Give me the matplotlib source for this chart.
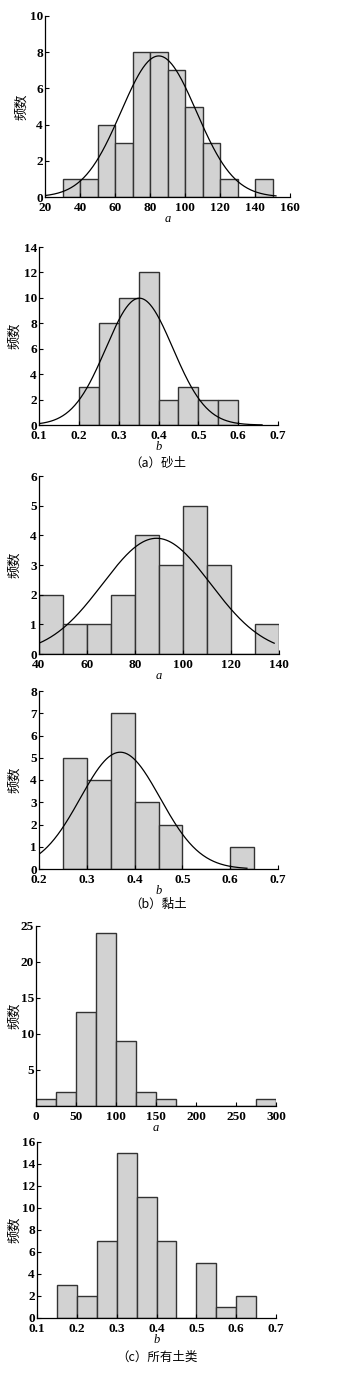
import numpy as np
import matplotlib
matplotlib.use("Agg")
import matplotlib.pyplot as plt

plt.rcParams['font.family'] = ['Liberation Serif', 'Noto Sans CJK SC']

# (a) sand: a
a1_edges = [30, 40, 50, 60, 70, 80, 90, 100, 110, 120, 130, 140, 150]
a1_counts = [1, 1, 4, 3, 8, 8, 7, 5, 3, 1, 0, 1]
a1_fit = (85, 21.5, 42)          # mean, std, n
# (a) sand: b
b1_edges = [0.20, 0.25, 0.30, 0.35, 0.40, 0.45, 0.50, 0.55, 0.60]
b1_counts = [3, 8, 10, 12, 2, 3, 2, 2]
b1_fit = (0.352, 0.084, 42)
# (b) clay: a
a2_edges = [40, 50, 60, 70, 80, 90, 100, 110, 120, 130, 140]
a2_counts = [2, 1, 1, 2, 4, 3, 5, 3, 0, 1]
a2_fit = (89, 22.5, 22)
# (b) clay: b
b2_edges = [0.25, 0.30, 0.35, 0.40, 0.45, 0.50, 0.55, 0.60, 0.65]
b2_counts = [5, 4, 7, 3, 2, 0, 0, 1]
b2_fit = (0.37, 0.0836, 22)
# (c) all soils: a
a3_edges = [0, 25, 50, 75, 100, 125, 150, 175, 200, 225, 250, 275, 300]
a3_counts = [1, 2, 13, 24, 9, 2, 1, 0, 0, 0, 0, 1]
# (c) all soils: b
b3_edges = [0.15, 0.20, 0.25, 0.30, 0.35, 0.40, 0.45, 0.50, 0.55, 0.60, 0.65]
b3_counts = [3, 2, 7, 15, 11, 7, 0, 5, 1, 2]

W, H = 354, 1394
fig = plt.figure(figsize=(W / 100, H / 100), dpi=100)
fig.patch.set_facecolor('white')

def px_axes(l, r, t, b):
    return fig.add_axes([l / W, 1 - b / H, (r - l) / W, (b - t) / H])

def panel(box, edges, counts, xlim, xticks, ylim, yticks, xlabel, fit=None,
          fit_range=None, xfmt=None):
    ax = px_axes(*box)
    edges = np.array(edges, dtype=float)
    ax.bar(edges[:-1], counts, width=np.diff(edges), align='edge',
           color='#d2d2d2', edgecolor='#333333', linewidth=1.0)
    if fit is not None:
        mu, sd, n = fit
        w = edges[1] - edges[0]
        xs = np.linspace(fit_range[0], fit_range[1], 300)
        ys = n * w / (sd * np.sqrt(2 * np.pi)) * np.exp(-0.5 * ((xs - mu) / sd) ** 2)
        ax.plot(xs, ys, color='black', linewidth=0.9)
    ax.set_xlim(*xlim)
    ax.set_ylim(*ylim)
    ax.set_xticks(xticks)
    if xfmt:
        ax.set_xticklabels([xfmt.format(v) for v in xticks])
    ax.set_yticks(yticks)
    for s in ['top', 'right']:
        ax.spines[s].set_visible(False)
    for s in ['left', 'bottom']:
        ax.spines[s].set_linewidth(0.9)
    ax.tick_params(direction='in', length=3, width=0.8, labelsize=9.5)
    ax.tick_params(axis='x', pad=3.5)
    ax.tick_params(axis='y', pad=1.5)
    for lab in ax.get_xticklabels() + ax.get_yticklabels():
        lab.set_fontweight('bold')
    l, r, t, b = box
    fig.text(((l + r) / 2) / W, 1 - (b + 22) / H, xlabel, ha='center',
             va='center', fontsize=9, style='italic')
    fig.text(15 / W if l < 42 else 22 / W, 1 - ((t + b) / 2) / H, '频数',
             rotation=90, ha='center', va='center', fontsize=9.5,
             family=['Noto Sans CJK SC'])
    return ax

panel((45, 290, 16, 197), a1_edges, a1_counts, (20, 160), range(20, 161, 20),
      (0, 10), range(0, 11, 2), 'a', a1_fit, (20, 152))
panel((39, 278, 247, 425), b1_edges, b1_counts, (0.1, 0.7),
      [0.1, 0.2, 0.3, 0.4, 0.5, 0.6, 0.7], (0, 14), range(0, 15, 2), 'b',
      b1_fit, (0.1, 0.66), '{:.1f}')
fig.text(158 / W, 1 - 463 / H, '（a）砂土', ha='center', va='center',
         fontsize=9, family=['Noto Sans CJK SC'])

panel((39, 279, 476, 654), a2_edges, a2_counts, (40, 140), range(40, 141, 20),
      (0, 6), range(0, 7), 'a', a2_fit, (40, 138))
panel((39, 278, 691, 869), b2_edges, b2_counts, (0.2, 0.7),
      [0.2, 0.3, 0.4, 0.5, 0.6, 0.7], (0, 8), range(0, 9), 'b',
      b2_fit, (0.2, 0.635), '{:.1f}')
fig.text(158 / W, 1 - 904 / H, '（b）黏土', ha='center', va='center',
         fontsize=9, family=['Noto Sans CJK SC'])

panel((36, 276, 926, 1106), a3_edges, a3_counts, (0, 300), range(0, 301, 50),
      (0, 25), range(5, 26, 5), 'a')
panel((37, 276, 1142, 1318), b3_edges, b3_counts, (0.1, 0.7),
      [0.1, 0.2, 0.3, 0.4, 0.5, 0.6, 0.7], (0, 16), range(0, 17, 2), 'b',
      xfmt='{:.1f}')
fig.text(157 / W, 1 - 1357 / H, '（c）所有土类', ha='center', va='center',
         fontsize=9, family=['Noto Sans CJK SC'])

fig.savefig('out.png', dpi=100)
